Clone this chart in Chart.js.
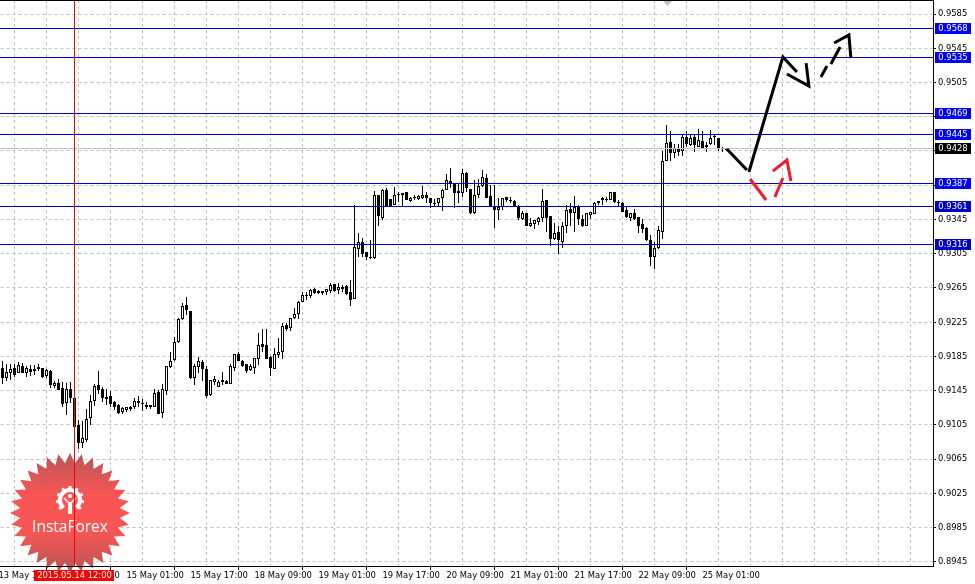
<!DOCTYPE html>
<html>
<head>
<meta charset="utf-8">
<title>InstaForex chart</title>
<script src="https://cdn.jsdelivr.net/npm/chart.js@4/dist/chart.umd.min.js"></script>
<style>
  html, body { margin: 0; padding: 0; background: #fff; overflow: hidden; }
  canvas { display: block; }
</style>
</head>
<body>
<canvas id="chart" width="975" height="584"></canvas>
<script>
// 2 hour candles
var candleOpen = [
  0.91713,0.91597,0.91655,0.91713,0.91655,0.91737,0.91655,0.91702,0.91702,0.91725,
  0.91713,0.91620,0.91678,0.91503,0.91538,0.91480,0.91304,0.91468,0.91363,0.91048,
  0.90837,0.90872,0.91129,0.91328,0.91515,0.91468,0.91375,0.91386,0.91316,0.91281,
  0.91199,0.91223,0.91258,0.91258,0.91328,0.91304,0.91281,0.91281,0.91258,0.91433,
  0.91188,0.91445,0.91725,0.91807,0.92017,0.92286,0.92450,0.92380,0.91597,0.91725,
  0.91784,0.91702,0.91398,0.91550,0.91491,0.91573,0.91562,0.91526,0.91713,0.91877,
  0.91795,0.91760,0.91690,0.91713,0.91819,0.91994,0.91982,0.91842,0.91702,0.91865,
  0.91901,0.92216,0.92181,0.92298,0.92345,0.92485,0.92566,0.92555,0.92637,0.92613,
  0.92613,0.92602,0.92613,0.92695,0.92625,0.92660,0.92672,0.92602,0.92520,0.93104,
  0.93186,0.93069,0.93010,0.92999,0.93735,0.93466,0.93793,0.93688,0.93618,0.93747,
  0.93735,0.93770,0.93665,0.93712,0.93688,0.93700,0.93735,0.93700,0.93642,0.93642,
  0.93700,0.93793,0.93899,0.93875,0.93782,0.93758,0.93992,0.93805,0.93525,0.93735,
  0.93840,0.93934,0.93723,0.93595,0.93560,0.93595,0.93712,0.93677,0.93665,0.93606,
  0.93455,0.93525,0.93373,0.93396,0.93420,0.93466,0.93677,0.93490,0.93221,0.93303,
  0.93186,0.93373,0.93571,0.93525,0.93595,0.93455,0.93373,0.93501,0.93513,0.93665,
  0.93677,0.93688,0.93677,0.93770,0.93653,0.93642,0.93560,0.93466,0.93525,0.93478,
  0.93396,0.93349,0.93209,0.93010,0.93116,0.93303,0.94132,0.94354,0.94226,0.94284,
  0.94249,0.94413,0.94319,0.94413,0.94296,0.94366,0.94296,0.94331,0.94424,0.94401,
  0.94284,0.94273
];
var candleHigh = [
  0.91795,0.91760,0.91760,0.91760,0.91784,0.91772,0.91737,0.91748,0.91748,0.91760,
  0.91713,0.91702,0.91690,0.91562,0.91585,0.91550,0.91538,0.91550,0.91375,0.91106,
  0.91094,0.91234,0.91398,0.91526,0.91678,0.91491,0.91468,0.91445,0.91328,0.91293,
  0.91258,0.91258,0.91269,0.91363,0.91386,0.91351,0.91316,0.91281,0.91468,0.91456,
  0.91526,0.91737,0.91901,0.92076,0.92298,0.92473,0.92543,0.92380,0.91760,0.91842,
  0.91807,0.91737,0.91573,0.91620,0.91573,0.91667,0.91573,0.91760,0.91877,0.91901,
  0.91807,0.91760,0.91760,0.91830,0.92122,0.92169,0.92169,0.91854,0.91947,0.92064,
  0.92239,0.92239,0.92298,0.92415,0.92496,0.92602,0.92602,0.92637,0.92648,0.92625,
  0.92613,0.92637,0.92707,0.92695,0.92707,0.92683,0.92683,0.92742,0.93618,0.93291,
  0.93232,0.93069,0.93209,0.93782,0.93735,0.93805,0.93817,0.93688,0.93829,0.93770,
  0.93758,0.93770,0.93712,0.93735,0.93735,0.93840,0.93770,0.93700,0.93688,0.93700,
  0.93805,0.93980,0.94050,0.93875,0.93875,0.94039,0.94004,0.93805,0.93910,0.93922,
  0.94027,0.93980,0.93852,0.93852,0.93700,0.93700,0.93712,0.93712,0.93677,0.93618,
  0.93548,0.93525,0.93466,0.93443,0.93478,0.93805,0.93677,0.93490,0.93408,0.93373,
  0.93420,0.93618,0.93642,0.93723,0.93618,0.93501,0.93525,0.93536,0.93653,0.93665,
  0.93712,0.93712,0.93770,0.93770,0.93677,0.93653,0.93595,0.93525,0.93571,0.93478,
  0.93455,0.93361,0.93268,0.93186,0.93373,0.94249,0.94553,0.94483,0.94331,0.94331,
  0.94436,0.94483,0.94436,0.94436,0.94506,0.94483,0.94354,0.94495,0.94436,0.94401,
  0.94296,0.94284
];
var candleLow = [
  0.91526,0.91562,0.91573,0.91608,0.91655,0.91655,0.91608,0.91620,0.91632,0.91678,
  0.91597,0.91597,0.91480,0.91480,0.91456,0.91258,0.91164,0.91304,0.90989,0.90767,
  0.90779,0.90849,0.91048,0.91269,0.91410,0.91316,0.91281,0.91258,0.91223,0.91176,
  0.91176,0.91199,0.91211,0.91234,0.91258,0.91211,0.91234,0.91234,0.91258,0.91176,
  0.91129,0.91398,0.91713,0.91795,0.92006,0.92274,0.92333,0.91585,0.91515,0.91655,
  0.91562,0.91363,0.91386,0.91515,0.91491,0.91515,0.91526,0.91526,0.91678,0.91795,
  0.91725,0.91655,0.91678,0.91643,0.91748,0.91901,0.91819,0.91620,0.91702,0.91830,
  0.91819,0.92146,0.92146,0.92286,0.92286,0.92485,0.92508,0.92531,0.92578,0.92578,
  0.92566,0.92566,0.92590,0.92602,0.92578,0.92602,0.92566,0.92438,0.92520,0.93010,
  0.93010,0.92975,0.92987,0.92987,0.93373,0.93443,0.93606,0.93595,0.93618,0.93653,
  0.93595,0.93677,0.93653,0.93677,0.93677,0.93688,0.93642,0.93583,0.93595,0.93595,
  0.93548,0.93793,0.93817,0.93583,0.93642,0.93712,0.93770,0.93513,0.93513,0.93700,
  0.93829,0.93700,0.93595,0.93349,0.93443,0.93560,0.93653,0.93642,0.93595,0.93443,
  0.93443,0.93373,0.93361,0.93338,0.93384,0.93420,0.93303,0.93139,0.93209,0.93045,
  0.93116,0.93291,0.93373,0.93303,0.93384,0.93361,0.93373,0.93455,0.93513,0.93618,
  0.93618,0.93653,0.93677,0.93642,0.93595,0.93536,0.93466,0.93431,0.93443,0.93291,
  0.93291,0.93197,0.92906,0.92870,0.93104,0.93221,0.94132,0.94132,0.94167,0.94191,
  0.94191,0.94296,0.94308,0.94237,0.94296,0.94284,0.94237,0.94319,0.94319,0.94249,
  0.94237,0.94249
];
var candleClose = [
  0.91597,0.91667,0.91702,0.91632,0.91748,0.91655,0.91713,0.91667,0.91678,0.91702,
  0.91608,0.91690,0.91515,0.91538,0.91456,0.91293,0.91468,0.91363,0.91024,0.90837,
  0.90895,0.91118,0.91328,0.91503,0.91456,0.91363,0.91351,0.91293,0.91258,0.91188,
  0.91246,0.91258,0.91234,0.91328,0.91304,0.91293,0.91258,0.91258,0.91421,0.91176,
  0.91468,0.91737,0.91795,0.92017,0.92286,0.92438,0.92391,0.91597,0.91737,0.91795,
  0.91702,0.91386,0.91573,0.91585,0.91550,0.91550,0.91526,0.91737,0.91877,0.91795,
  0.91737,0.91678,0.91737,0.91830,0.91982,0.91959,0.91819,0.91713,0.91877,0.91901,
  0.92204,0.92169,0.92298,0.92345,0.92485,0.92566,0.92555,0.92625,0.92590,0.92590,
  0.92590,0.92637,0.92683,0.92613,0.92660,0.92637,0.92578,0.92508,0.93127,0.93186,
  0.93045,0.93010,0.92999,0.93735,0.93490,0.93793,0.93606,0.93606,0.93735,0.93735,
  0.93758,0.93677,0.93700,0.93700,0.93723,0.93735,0.93700,0.93642,0.93630,0.93700,
  0.93793,0.93910,0.93875,0.93758,0.93758,0.93992,0.93817,0.93525,0.93735,0.93840,
  0.93945,0.93700,0.93595,0.93560,0.93595,0.93700,0.93677,0.93665,0.93606,0.93466,
  0.93525,0.93373,0.93408,0.93443,0.93466,0.93665,0.93466,0.93221,0.93291,0.93209,
  0.93373,0.93560,0.93525,0.93595,0.93455,0.93373,0.93525,0.93536,0.93642,0.93642,
  0.93700,0.93677,0.93770,0.93653,0.93642,0.93536,0.93478,0.93525,0.93455,0.93373,
  0.93338,0.93209,0.93010,0.93116,0.93326,0.94132,0.94343,0.94226,0.94284,0.94237,
  0.94413,0.94331,0.94401,0.94319,0.94378,0.94284,0.94319,0.94401,0.94413,0.94273,
  0.94273,0.94261
];

// horizontal levels and their tags on the price axis
var levels = [0.9568, 0.9535, 0.9469, 0.9445, 0.9387, 0.9361, 0.9316];
var levelTagColors = ['#0000ff', '#0000ff', '#0000ff', '#0000ff', '#0000ff', '#0000c8', '#0000c8'];
var lastPrice = 0.9428;

var priceTicks = [0.9585, 0.9545, 0.9505, 0.9465, 0.9425, 0.9385, 0.9345, 0.9305, 0.9265, 0.9225,
                  0.9185, 0.9145, 0.9105, 0.9065, 0.9025, 0.8985, 0.8945];
var gridBars = [7, 15, 23, 31, 39, 47, 55, 63, 71, 79, 87, 95, 103, 111, 119, 127, 135, 143, 151,
                159, 167, 175, 183, 191, 199, 207, 215, 223, 231];
var timeBars = [-1, 15, 31, 47, 63, 79, 95, 111, 127, 143, 159, 175];
var timeLabels = ['13 May 17:00', '14 May 09:00', '15 May 01:00', '15 May 17:00', '18 May 09:00',
                  '19 May 01:00', '19 May 17:00', '20 May 09:00', '21 May 01:00', '21 May 17:00',
                  '22 May 09:00', '25 May 01:00'];

// crosshair
var crossBar = 18;
var crossLabel = '2015.05.14 12:00';

// hand drawn forecast strokes, bar index and price
var blackStrokes = [
  { x: [181.1, 186.1], y: [0.94273, 0.94027] },
  { x: [186.6, 195.1, 198.6], y: [0.94004, 0.95348, 0.95172] },
  { x: [196.1, 201.6, 200.9], y: [0.95149, 0.95009, 0.95277] },
  { x: [204.6, 206.1], y: [0.95114, 0.95242] },
  { x: [207.1, 209.4], y: [0.95266, 0.95464] },
  { x: [207.9, 211.6, 212.1], y: [0.95511, 0.95605, 0.95336] }
];
var redStrokes = [
  { x: [186.9, 190.9], y: [0.93922, 0.93677] },
  { x: [193.1, 195.1], y: [0.93712, 0.93934] },
  { x: [192.6, 196.1, 197.1], y: [0.94015, 0.94144, 0.93899] }
];

var xMin = -0.5, xMax = 232.625;
var yMin = 0.894, yMax = 0.96014;
var axisFont = { family: '"DejaVu Sans Condensed", "DejaVu Sans", sans-serif', size: 9.3 };

// the terminal draws horizontal lines on whole pixel rows
function levelRow(y) {
  return Math.floor(y + 0.3);
}

function strokeDataset(stroke, color) {
  return {
    type: 'line',
    data: stroke.x.map(function(x, i) { return { x: x, y: stroke.y[i] }; }),
    borderColor: color,
    borderWidth: 3,
    pointRadius: 0,
    tension: 0,
    order: 0
  };
}

function levelDataset(value, color, order) {
  return {
    type: 'line',
    level: true,
    clip: false,
    data: [{ x: -1, y: value }, { x: xMax, y: value }],
    borderColor: color,
    borderWidth: 1,
    pointRadius: 0,
    order: order
  };
}

var datasets = [];

// wicks first, bodies on top of them
datasets.push({
  type: 'bar',
  data: candleHigh.map(function(h, i) { return { x: i, y: [candleLow[i], h] }; }),
  backgroundColor: '#000',
  barThickness: 1,
  grouped: false,
  inflateAmount: 0,
  order: 6
});
datasets.push({
  type: 'bar',
  data: candleOpen.map(function(o, i) { return { x: i, y: [o, candleClose[i]] }; }),
  backgroundColor: candleOpen.map(function(o, i) { return candleClose[i] > o ? '#fff' : '#000'; }),
  borderColor: '#000',
  borderWidth: 1,
  borderSkipped: false,
  barThickness: 3,
  grouped: false,
  inflateAmount: 0,
  order: 5
});

datasets.push(levelDataset(lastPrice, '#c0c0c0', 4));
levels.forEach(function(v) { datasets.push(levelDataset(v, '#0000cc', 3)); });

// crosshair through the whole chart
datasets.push({
  type: 'line',
  data: [{ x: crossBar, y: yMin }, { x: crossBar, y: yMax }],
  borderColor: '#ff0000',
  borderWidth: 1,
  pointRadius: 0,
  order: 2
});

blackStrokes.forEach(function(s) { datasets.push(strokeDataset(s, '#000')); });
redStrokes.forEach(function(s) { datasets.push(strokeDataset(s, '#ee1c2e')); });

// keep candles and level lines on whole pixels like the terminal does
var pixelSnap = {
  id: 'pixelSnap',
  afterDatasetsUpdate: function(chart) {
    chart.data.datasets.forEach(function(ds, i) {
      var meta = chart.getDatasetMeta(i);
      if (ds.type === 'bar') {
        meta.data.forEach(function(el) {
          el.y = Math.round(el.y);
          el.base = Math.round(el.base);
          el.height = el.base - el.y;
          if (el.height === 0) el.base = el.y + 1;
        });
      } else if (ds.level) {
        meta.data.forEach(function(pt) { pt.y = levelRow(pt.y) + 0.5; });
      }
    });
  }
};

function drawWatermark(ctx) {
  var cx = 70, cy = 513, i;
  var teeth = 32, outer = 60, inner = 50;
  var grad = ctx.createLinearGradient(0, 453, 0, 573);
  grad.addColorStop(0, 'rgba(180,72,72,0.92)');
  grad.addColorStop(0.36, 'rgba(250,76,76,0.95)');
  grad.addColorStop(0.64, 'rgba(250,76,76,0.95)');
  grad.addColorStop(1, 'rgba(180,72,72,0.92)');

  ctx.save();
  ctx.fillStyle = grad;
  ctx.beginPath();
  for (i = 0; i < teeth * 2; i++) {
    var r = i % 2 === 0 ? outer : inner;
    var a = -Math.PI / 2 + i * Math.PI / teeth;
    ctx.lineTo(cx + r * Math.cos(a), cy + r * Math.sin(a));
  }
  ctx.closePath();
  ctx.fill();

  // gear logo
  ctx.strokeStyle = '#fff';
  ctx.fillStyle = '#fff';
  var gx = 70, gy = 500;
  ctx.lineWidth = 4;
  ctx.beginPath();
  ctx.arc(gx, gy, 10, Math.PI * 0.72, Math.PI * 0.28);
  ctx.stroke();
  ctx.lineWidth = 3;
  for (i = 0; i < 9; i++) {
    var t = Math.PI * 0.78 + i * Math.PI * 0.18;
    ctx.beginPath();
    ctx.moveTo(gx + 10 * Math.cos(t), gy + 10 * Math.sin(t));
    ctx.lineTo(gx + 14 * Math.cos(t), gy + 14 * Math.sin(t));
    ctx.stroke();
  }
  ctx.beginPath();
  ctx.arc(gx, gy - 4, 2, 0, Math.PI * 2);
  ctx.fill();
  ctx.fillRect(gx - 2, gy + 2, 4, 12);
  ctx.lineWidth = 1.5;
  ctx.beginPath();
  ctx.moveTo(gx - 6, gy - 2);
  ctx.lineTo(gx - 1, gy + 3);
  ctx.moveTo(gx + 6, gy - 2);
  ctx.lineTo(gx + 1, gy + 3);
  ctx.stroke();

  ctx.font = '15.5px "Open Sans", sans-serif';
  ctx.textAlign = 'center';
  ctx.textBaseline = 'alphabetic';
  ctx.fillText('InstaForex', 70, 532);
  ctx.restore();
}

var watermark = {
  id: 'watermark',
  beforeDatasetsDraw: function(chart) { drawWatermark(chart.ctx); }
};

function priceTag(ctx, y, text, color) {
  var row = levelRow(y);
  ctx.fillStyle = color;
  ctx.fillRect(935, row - 5, 36, 11);
  ctx.fillStyle = '#fff';
  ctx.fillText(text, 953, row + 0.5);
}

// tags, top edge and the small marker, all on top of the axes
var overlays = {
  id: 'overlays',
  afterDraw: function(chart) {
    var ctx = chart.ctx;
    var yScale = chart.scales.y, xScale = chart.scales.x;
    ctx.save();
    ctx.fillStyle = '#000';
    ctx.fillRect(0, 0, 933, 1);
    ctx.fillRect(0, 566, 933, 1);

    ctx.fillStyle = '#c0c0c0';
    ctx.beginPath();
    ctx.moveTo(663, 1);
    ctx.lineTo(672, 1);
    ctx.lineTo(667.5, 6);
    ctx.closePath();
    ctx.fill();

    ctx.font = axisFont.size + 'px ' + axisFont.family;
    ctx.textAlign = 'center';
    ctx.textBaseline = 'middle';
    levels.forEach(function(v, i) {
      priceTag(ctx, yScale.getPixelForValue(v), v.toFixed(4), levelTagColors[i]);
    });
    priceTag(ctx, yScale.getPixelForValue(lastPrice), lastPrice.toFixed(4), '#000');

    var cx = xScale.getPixelForValue(crossBar);
    ctx.fillStyle = '#ff0000';
    ctx.fillRect(cx - 40.5, 570, 80, 11);
    ctx.fillStyle = '#fff';
    ctx.fillText(crossLabel, cx, 575.5);
    ctx.restore();
  }
};

new Chart(document.getElementById('chart'), {
  data: { datasets: datasets },
  plugins: [pixelSnap, watermark, overlays],
  options: {
    responsive: false,
    animation: false,
    events: [],
    layout: { padding: { left: 0.5 } },
    plugins: { legend: { display: false }, tooltip: { enabled: false } },
    scales: {
      x: {
        type: 'linear',
        min: xMin,
        max: xMax,
        offset: false,
        afterBuildTicks: function(scale) {
          scale.ticks = [-1].concat(gridBars).map(function(v) { return { value: v }; });
        },
        afterFit: function(scale) {
          scale.height = 18;
          scale.paddingLeft = 0;
          scale.paddingRight = 0;
        },
        border: { display: true, color: '#000', dash: [3, 3] },
        grid: {
          color: '#c0c0c0',
          tickLength: 4,
          tickBorderDash: [],
          tickColor: function(ctx) {
            return ctx.tick && timeBars.indexOf(ctx.tick.value) >= 0 ? '#000' : 'rgba(0,0,0,0)';
          }
        },
        ticks: {
          autoSkip: false,
          maxRotation: 0,
          minRotation: 0,
          align: 'start',
          padding: 0,
          color: '#000',
          font: axisFont,
          callback: function(value) {
            var i = timeBars.indexOf(value);
            return i >= 0 ? timeLabels[i] : '';
          }
        }
      },
      y: {
        type: 'linear',
        position: 'right',
        min: yMin,
        max: yMax,
        afterBuildTicks: function(scale) {
          scale.ticks = priceTicks.map(function(v) { return { value: v }; });
        },
        afterFit: function(scale) {
          scale.width = 42;
          scale.paddingTop = 0;
          scale.paddingBottom = 0;
        },
        border: { display: true, color: '#000', dash: [3, 3] },
        grid: { color: '#c0c0c0', tickLength: 3, tickColor: '#000', tickBorderDash: [] },
        ticks: {
          padding: 2,
          color: '#000',
          font: axisFont,
          callback: function(value) { return value.toFixed(4); }
        }
      }
    }
  }
});
</script>
</body>
</html>
